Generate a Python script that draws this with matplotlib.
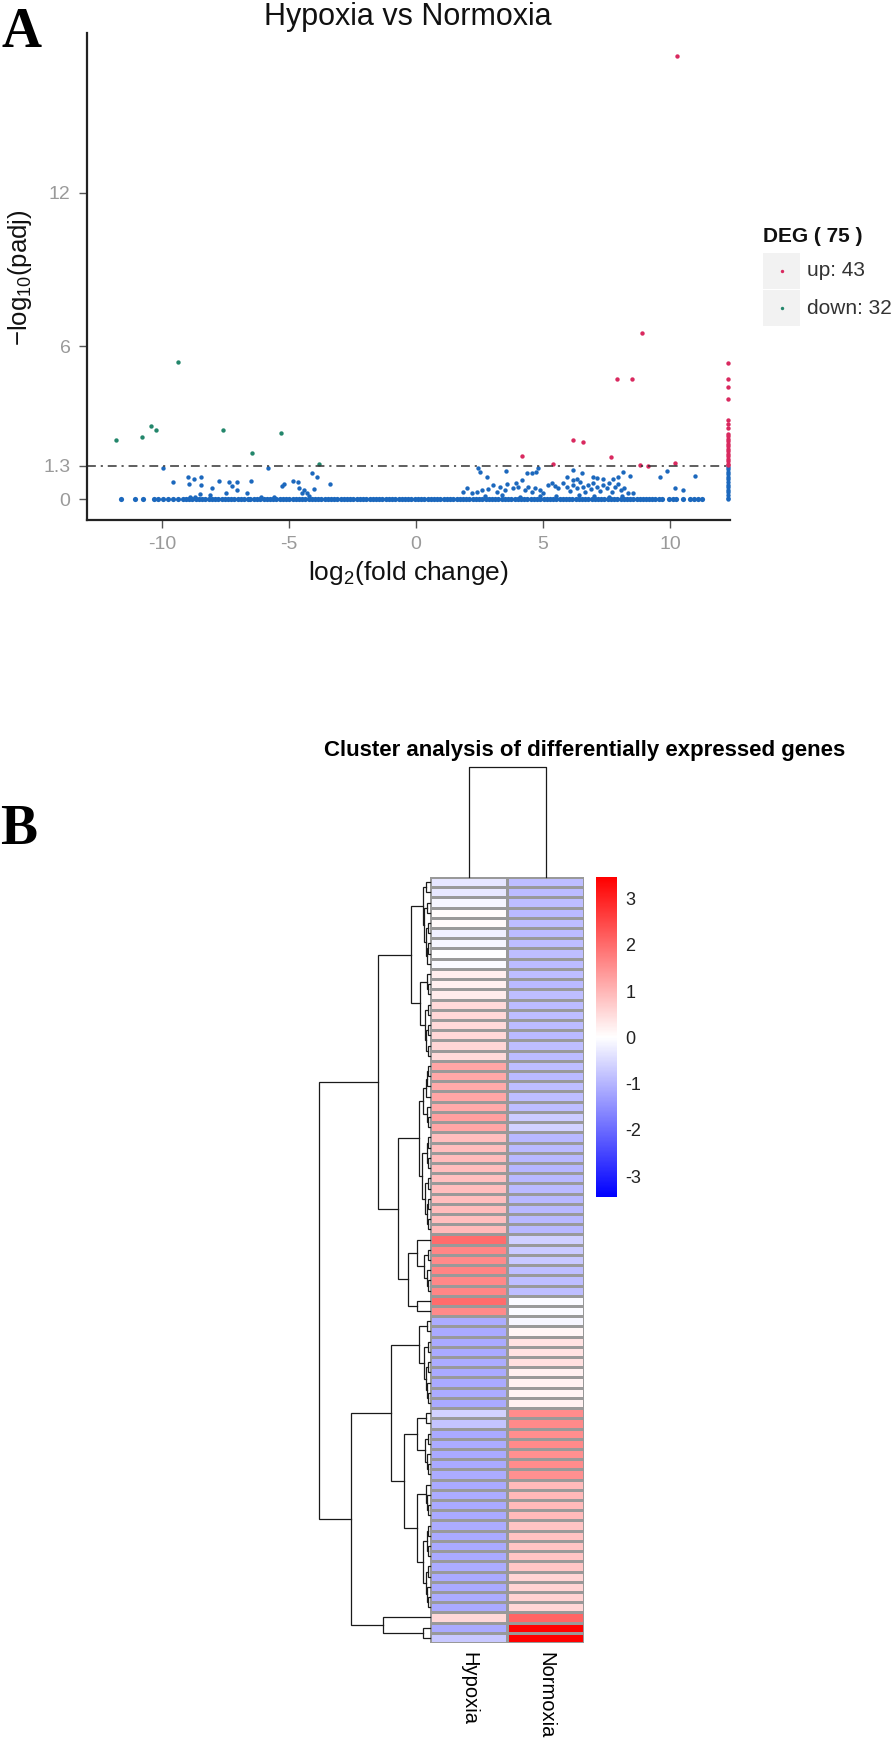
import numpy as np
import matplotlib
matplotlib.use("Agg")
import matplotlib.pyplot as plt
from matplotlib import font_manager
from matplotlib.colors import LinearSegmentedColormap, Normalize

plt.rcParams['font.family'] = ['Liberation Sans', 'DejaVu Sans']
plt.rcParams['axes.unicode_minus'] = False
plt.rcParams['mathtext.default'] = 'regular'

# ====================================
# DATA : VOLCANO (panel A)
# ====================================

# genes with padj = 1 sitting on the baseline
base_x = [-11.63, -11.06, -10.76, -10.31, -10.15, -9.95, -9.75, -9.55, -9.35, -9.16,
          -9.05, -8.93, -8.8, -8.66, -8.55, -8.41, -8.3, -8.16, -8.04, -7.9, -7.79,
          -7.65, -7.52, -7.4, -7.27, -7.15, -7.01, -6.9, -6.77, -6.63, -6.52, -6.38,
          -6.26, -6.13, -6.0, -5.88, -5.75, -5.62, -5.5, -5.37, -5.24, -5.12, -4.99,
          -4.86, -4.74, -4.61, -4.48, -4.36, -4.23, -4.1, -3.98, -3.85, -3.72, -3.6,
          -3.47, -3.34, -3.22, -3.09, -2.96, -2.84, -2.71, -2.58, -2.46, -2.33, -2.2,
          -2.08, -1.95, -1.82, -1.7, -1.57, -1.44, -1.32, -1.19, -1.06, -0.94, -0.81,
          -0.68, -0.56, -0.43, -0.3, -0.18, -0.05, 0.08, 0.2, 0.33, 0.46, 0.58, 0.71,
          0.84, 0.96, 1.09, 1.22, 1.34, 1.47, 1.6, 1.72, 1.85, 1.98, 2.1, 2.23, 2.36,
          2.48, 2.61, 2.74, 2.86, 2.99, 3.12, 3.24, 3.37, 3.5, 3.62, 3.75, 3.88, 4.0,
          4.13, 4.26, 4.38, 4.51, 4.64, 4.76, 4.89, 5.02, 5.14, 5.27, 5.4, 5.52, 5.65,
          5.78, 5.9, 6.03, 6.16, 6.28, 6.41, 6.54, 6.66, 6.79, 6.92, 7.04, 7.17, 7.3,
          7.42, 7.55, 7.68, 7.8, 7.93, 8.06, 8.18, 8.31, 8.44, 8.55, 8.68, 8.8, 8.93,
          9.05, 9.18, 9.3, 9.42, 9.55, 9.68, 9.95, 10.1, 10.22, 10.5, 10.8, 10.95,
          11.1, 11.25]

# not significant, scattered
ns_x = [-9.95, -5.81, -9.58, -8.96, -8.74, -8.48, -8.94, -8.48, -8.02, -7.76, -7.35,
        -7.04, -7.23, -7.04, -6.51, -6.67, -7.49, -8.51, -8.11, -5.29, -5.2, -4.86,
        -4.66, -4.6, -4.41, -4.5, -4.3, -4.11, -3.89, -4.0, -3.39, -8.9, -8.7, -6.1,
        -5.6, -4.2,
        2.45, 2.52, 2.81, 3.54, 4.36, 4.55, 4.72, 4.82, 5.93, 6.19, 6.52, 6.96, 7.11,
        7.37, 7.77, 7.97, 8.14, 8.43, 9.61, 9.87, 10.98, 10.2, 10.52,
        1.86, 1.99, 2.19, 2.39, 2.59, 2.85, 3.04, 3.17, 3.31, 3.5, 3.6, 3.83, 3.94,
        4.03, 4.16, 4.29, 4.42, 4.55, 4.69, 4.88, 5.01, 5.21, 5.34, 5.47, 5.6, 5.8,
        5.93, 6.06, 6.19, 6.33, 6.46, 6.56, 6.65, 6.79, 6.88, 6.98, 7.11, 7.24, 7.37,
        7.51, 7.61, 7.7, 7.83, 7.97, 8.06, 8.19, 8.36, 8.53, 6.19, 6.33, 2.7, 3.4,
        4.1, 4.9, 5.5, 6.4, 7.0, 7.6, 8.1,
        12.3, 12.3, 12.3, 12.3, 12.3, 12.3, 12.3, 12.3, 12.3, 12.3, 12.3, 12.3, 12.3,
        12.3]
ns_y = [1.22, 1.22, 0.68, 0.87, 0.78, 0.87, 0.6, 0.56, 0.42, 0.71, 0.66,
        0.66, 0.5, 0.37, 0.72, 0.25, 0.22, 0.2, 0.16, 0.5, 0.6, 0.71,
        0.66, 0.42, 0.37, 0.22, 0.25, 1.01, 0.86, 0.41, 0.59, 0.09, 0.1, 0.08,
        0.1, 0.12,
        1.2, 1.07, 0.88, 1.11, 1.03, 1.01, 1.07, 1.2, 0.88, 1.14, 1.01, 0.88, 0.82,
        0.78, 0.78, 0.88, 1.07, 0.92, 0.88, 1.11, 0.92, 0.42, 0.35,
        0.29, 0.42, 0.22, 0.29, 0.35, 0.38, 0.55, 0.29, 0.48, 0.35, 0.58, 0.42, 0.62,
        0.48, 0.75, 0.35, 0.46, 0.29, 0.42, 0.35, 0.22, 0.55, 0.62, 0.51, 0.42, 0.62,
        0.48, 0.33, 0.55, 0.42, 0.68, 0.48, 0.29, 0.55, 0.38, 0.62, 0.48, 0.33, 0.55,
        0.42, 0.62, 0.29, 0.48, 0.58, 0.35, 0.42, 0.25, 0.22, 0.75, 0.78, 0.12, 0.15,
        0.1, 0.14, 0.12, 0.15, 0.12, 0.1, 0.14,
        1.27, 1.17, 1.06, 0.97, 0.86, 0.77, 0.66, 0.57, 0.46, 0.36, 0.26, 0.15, 0.06,
        0.0]

up_x = [10.29, 8.88, 7.93, 8.49, 6.19, 6.56, 4.19, 7.67, 5.41, 8.82, 9.13, 10.2,
        12.3, 12.3, 12.3, 12.3, 12.3, 12.3, 12.3, 12.3, 12.3, 12.3, 12.3, 12.3, 12.3,
        12.3, 12.3, 12.3, 12.3, 12.3, 12.3, 12.3, 12.3]
up_y = [17.37, 6.5, 4.71, 4.71, 2.31, 2.25, 1.7, 1.66, 1.37, 1.33, 1.31, 1.4,
        5.35, 4.71, 4.38, 3.92, 3.1, 2.93, 2.77, 2.57, 2.48, 2.37, 2.28, 2.17, 2.08,
        1.97, 1.88, 1.77, 1.68, 1.57, 1.48, 1.39, 1.33]

down_x = [-11.81, -10.8, -10.45, -10.25, -9.36, -7.61, -6.47, -5.31, -3.8]
down_y = [2.31, 2.44, 2.88, 2.71, 5.39, 2.71, 1.79, 2.58, 1.36]

n_up, n_down = 43, 32
y_ticks = [0, 1.3, 6, 12]
y_tick_labels = ['0', '1.3', '6', '12']
x_ticks = [-10, -5, 0, 5, 10]

# ====================================
# DATA : HEATMAP (panel B)
# ====================================

samples = ['Hypoxia', 'Normoxia']

hypoxia = [-0.34, -0.30, -0.12, 0.05, 0.07, -0.20, -0.10, 0.00, -0.06,
           0.25, 0.22, 0.27,
           0.52, 0.55, 0.50, 0.53, 0.56, 0.50,
           1.20, 1.18, 1.15, 1.20, 1.17, 1.30, 1.20,
           0.90, 0.88, 0.92, 0.90, 0.87, 0.90, 0.88, 0.92, 0.90, 0.95,
           2.00, 1.65, 1.60, 1.68, 1.62, 1.65, 2.00, 1.60,
           -1.12, -1.15, -1.13, -1.15, -1.12, -1.14, -1.15, -1.12, -1.13,
           -0.60, -0.80,
           -1.14, -1.12, -1.15, -1.13, -1.10,
           -1.14, -1.12, -1.13, -1.15, -1.12, -1.14, -1.13, -1.15, -1.12, -1.14,
           -1.13, -1.12, -1.15,
           0.55, -1.15, -0.74]

normoxia = [-0.88, -0.90, -0.86, -0.92, -0.88, -0.90, -0.86, -0.88, -0.90,
            -0.88, -0.92, -0.88,
            -0.90, -0.86, -0.90, -0.92, -0.88, -0.90,
            -0.88, -0.92, -0.88, -0.86, -0.88, -0.68, -0.60,
            -0.95, -0.93, -0.95, -0.97, -0.95, -0.93, -0.95, -0.96, -0.94, -0.95,
            -0.62, -0.70, -0.72, -0.88, -0.86, -0.88, -0.07, -0.05,
            -0.12, 0.12, 0.41, 0.40, 0.42, 0.20, 0.18, 0.15, 0.20,
            1.56, 1.60, 1.55, 1.58, 1.50, 1.56, 1.52,
            0.95, 0.97, 0.93, 0.95, 0.82, 0.84, 0.80, 0.82, 0.78, 0.60, 0.58,
            0.62, 0.57,
            2.11, 3.47, 3.45]

# row dendrogram: (left, right, height), leaves are row numbers
row_tree = (
    (
        (
            ((0, 1, 0.04), ((2, 3, 0.03), ((4, 5, 0.02), ((6, 7, 0.015), 8, 0.025), 0.035), 0.05), 0.063),
            ((9, (10, 11, 0.02), 0.03), ((12, 13, 0.02), ((14, 15, 0.015), (16, 17, 0.02), 0.035), 0.045), 0.09),
            0.171),
        (
            (
                ((((18, 19, 0.015), 20, 0.025), 21, 0.035), (22, (23, 24, 0.015), 0.03), 0.06),
                (((25, 26, 0.015), (27, 28, 0.02), 0.03),
                 ((29, 30, 0.02), ((31, 32, 0.015), (33, 34, 0.02), 0.03), 0.045), 0.07),
                0.1),
            ((35, ((36, 37, 0.02), (38, (39, 40, 0.015), 0.03), 0.054), 0.117), (41, 42, 0.117), 0.2),
            0.288),
        0.468),
    (
        (
            ((43, 44, 0.03), ((45, 46, 0.02), ((47, 48, 0.02), (49, (50, 51, 0.015), 0.03), 0.04), 0.05), 0.1),
            (
                ((52, 53, 0.04), ((54, 55, 0.02), (56, (57, 58, 0.015), 0.03), 0.045), 0.117),
                ((59, (60, (61, 62, 0.015), 0.025), 0.036),
                 (((63, 64, 0.015), (65, 66, 0.02), 0.03),
                  ((67, 68, 0.02), (69, (70, 71, 0.015), 0.025), 0.035), 0.063),
                 0.117),
                0.234),
            0.351),
        (72, (73, 74, 0.063), 0.42),
        0.712),
    1.0)

col_tree = (0, 1, 1.0)
scale_ticks = [-3, -2, -1, 0, 1, 2, 3]
v_min, v_max = -3.45, 3.47

# ====================================
# FIGURE
# ====================================

W, H = 896, 1744
fig = plt.figure(figsize=(W / 100, H / 100), dpi=100)


def box(x0, y0, x1, y1):
    # pixel box (top-down) -> figure fraction
    return [x0 / W, 1 - y1 / H, (x1 - x0) / W, (y1 - y0) / H]


ov = fig.add_axes([0, 0, 1, 1])
ov.set_xlim(0, W)
ov.set_ylim(H, 0)
ov.axis('off')

# ------------- panel A --------------
ax = fig.add_axes(box(87, 33, 730, 520))
ax.set_xlim(-12.95, 12.36)
ax.set_ylim(-0.82, 18.27)

blue, red, green = '#1c68bd', '#d9295f', '#23866b'
ax.scatter(base_x, np.zeros(len(base_x)), s=14, color=blue, linewidths=0, clip_on=False)
ax.scatter(ns_x, ns_y, s=10, color=blue, linewidths=0, clip_on=False)
ax.scatter(up_x, up_y, s=10, color=red, linewidths=0, clip_on=False)
ax.scatter(down_x, down_y, s=10, color=green, linewidths=0, clip_on=False)
ax.axhline(1.3, color='#333333', lw=1.1, dashes=(5.8, 3.2, 1.4, 3.2))

for side in ['top', 'right']:
    ax.spines[side].set_visible(False)
for side in ['left', 'bottom']:
    ax.spines[side].set_color('#222222')
    ax.spines[side].set_linewidth(1.6)
ax.set_xticks(x_ticks)
ax.set_yticks(y_ticks)
ax.set_yticklabels(y_tick_labels)
ax.tick_params(length=5.8, width=1, color='#555555', labelcolor='#9a9a9a',
               labelsize=14, pad=6)

ov.text(408, 25, 'Hypoxia vs Normoxia', fontsize=22, ha='center', va='baseline', color='#111111')
ov.text(408, 573, 'log$_2$(fold change)', fontsize=19, ha='center', va='center', color='#111111')
ov.text(20, 278, '\u2212log$_{10}$(padj)', fontsize=18.5, rotation=90, ha='center', va='center',
        color='#111111')

# legend
ov.text(763, 242, 'DEG ( %d )' % (n_up + n_down), fontsize=15, fontweight='bold', va='baseline',
        color='#111111')
for y0, col, lab in [(253, red, 'up: %d' % n_up), (290, green, 'down: %d' % n_down)]:
    ov.add_patch(plt.Rectangle((763, y0), 37, 36, color='#f2f2f2', lw=0))
    ov.scatter([781.5], [y0 + 18], s=6, color=col, linewidths=0)
    ov.text(807, y0 + 18, lab, fontsize=15, va='center', color='#333333')

ov.text(21, 47, 'A', family=['Liberation Serif'], fontweight='bold', fontsize=40,
        ha='center', va='baseline')

# ------------- panel B --------------
ov.text(19, 844, 'B', family=['Liberation Serif'], fontweight='bold', fontsize=40,
        ha='center', va='baseline')

# the title is set in a narrow bold face
try:
    font_manager.findfont(font_manager.FontProperties(family='Liberation Sans Narrow',
                                                      weight='bold'),
                          fallback_to_default=False)
    title_family, title_size = ['Liberation Sans Narrow'], 19
except ValueError:
    title_family, title_size = ['Liberation Sans'], 16
ov.text(585, 756, 'Cluster analysis of differentially expressed genes', family=title_family,
        fontsize=title_size, fontweight='bold', ha='center', va='baseline')

cmap = LinearSegmentedColormap.from_list('bwr_ph', ['#0000ff', '#ffffff', '#ff0000'])
cnorm = Normalize(v_min, v_max)
mat = np.array([hypoxia, normoxia]).T
n_rows = mat.shape[0]

hm = fig.add_axes(box(430, 877, 584, 1643))
mesh = hm.pcolormesh(mat, cmap=cmap, norm=cnorm, edgecolors='#999999', linewidth=0.9)
hm.set_xlim(0, 2)
hm.set_ylim(n_rows, 0)
hm.axis('off')


def draw_tree(a, node):
    if isinstance(node, int):
        return node + 0.5, 0.0
    left, right, h = node
    yl, hl = draw_tree(a, left)
    yr, hr = draw_tree(a, right)
    a.plot([hl, h, h, hr], [yl, yl, yr, yr], color='#1a1a1a', lw=0.9,
           solid_joinstyle='miter', clip_on=False)
    return (yl + yr) / 2, h


rd = fig.add_axes(box(319, 877, 430, 1643))
draw_tree(rd, row_tree)
rd.set_xlim(row_tree[2], 0)
rd.set_ylim(n_rows, 0)
rd.axis('off')

cd = fig.add_axes(box(430, 767, 584, 877))
c_l, c_r, c_h = col_tree
cd.plot([c_l + 0.5, c_l + 0.5, c_r + 0.5, c_r + 0.5], [0, c_h, c_h, 0], color='#1a1a1a',
        lw=0.9, clip_on=False)
cd.set_xlim(0, 2)
cd.set_ylim(0, c_h)
cd.axis('off')

for i, name in enumerate(samples):
    ov.text(430 + 77 * (i + 0.5), 1652, name, fontsize=14.5, rotation=270,
            ha='center', va='top')

cax = fig.add_axes(box(596, 877, 617, 1197))
cb = fig.colorbar(mesh, cax=cax, ticks=scale_ticks)
cb.outline.set_visible(False)
cax.tick_params(length=0, pad=6, labelsize=13, labelcolor='#222222')

fig.savefig('out.png', dpi=100)
